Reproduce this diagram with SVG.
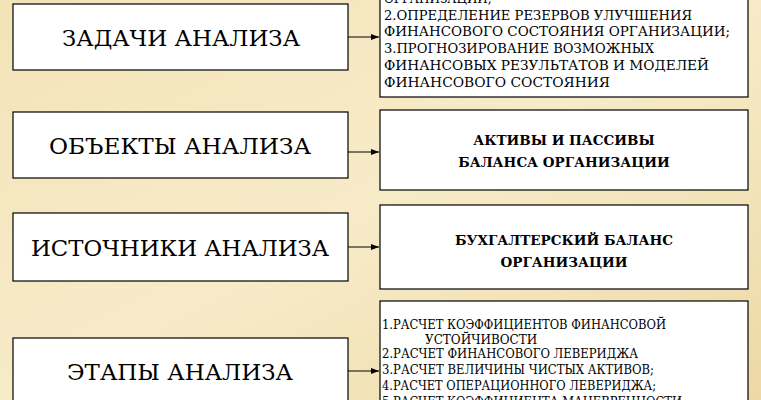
<svg xmlns="http://www.w3.org/2000/svg" width="761" height="400" viewBox="0 0 761 400">
<defs>
<linearGradient id="bg" x1="0" y1="0" x2="1" y2="1">
<stop offset="0" stop-color="#f3e3b8"/><stop offset="0.5" stop-color="#f7ebc8"/><stop offset="1" stop-color="#edd9a6"/>
</linearGradient>
<marker id="ar" markerWidth="8" markerHeight="6" refX="8" refY="3" orient="auto"><path d="M0,0L8,3L0,6z" fill="#000"/></marker>
</defs>
<style>
.b{fill:#fff;stroke:#000;stroke-width:1.2}
.L{font-family:"DejaVu Serif","Liberation Serif",serif;font-size:22px;text-anchor:middle}
.s{font-family:"DejaVu Serif","Liberation Serif",serif;font-size:12px}
.m{font-family:"DejaVu Serif","Liberation Serif",serif;font-size:13.5px;font-weight:bold;text-anchor:middle}
.c{stroke:#000;stroke-width:1;marker-end:url(#ar)}
</style>
<rect width="761" height="400" fill="url(#bg)"/>
<g id="n1"><rect class="b" x="13" y="4" width="335" height="66"/><text class="L" x="181" y="46" textLength="238" lengthAdjust="spacingAndGlyphs">ЗАДАЧИ АНАЛИЗА</text></g>
<g id="n2"><rect class="b" x="13" y="112" width="335" height="66"/><text class="L" x="180" y="154" textLength="262" lengthAdjust="spacingAndGlyphs">ОБЪЕКТЫ АНАЛИЗА</text></g>
<g id="n3"><rect class="b" x="13" y="213" width="335" height="68"/><text class="L" x="180" y="256" textLength="298" lengthAdjust="spacingAndGlyphs">ИСТОЧНИКИ АНАЛИЗА</text></g>
<g id="n4"><rect class="b" x="13" y="338" width="335" height="70"/><text class="L" x="180" y="380" textLength="226" lengthAdjust="spacingAndGlyphs">ЭТАПЫ АНАЛИЗА</text></g>
<g id="r1"><rect class="b" x="380" y="-5" width="368" height="102"/>
<text class="s" x="384" y="3">ОРГАНИЗАЦИИ;</text>
<text class="s" x="384" y="20" textLength="308" lengthAdjust="spacingAndGlyphs">2.ОПРЕДЕЛЕНИЕ РЕЗЕРВОВ УЛУЧШЕНИЯ</text>
<text class="s" x="384" y="36" textLength="346" lengthAdjust="spacingAndGlyphs">ФИНАНСОВОГО СОСТОЯНИЯ ОРГАНИЗАЦИИ;</text>
<text class="s" x="384" y="53" textLength="270" lengthAdjust="spacingAndGlyphs">3.ПРОГНОЗИРОВАНИЕ ВОЗМОЖНЫХ</text>
<text class="s" x="384" y="70" textLength="325" lengthAdjust="spacingAndGlyphs">ФИНАНСОВЫХ РЕЗУЛЬТАТОВ И МОДЕЛЕЙ</text>
<text class="s" x="384" y="87" textLength="226" lengthAdjust="spacingAndGlyphs">ФИНАНСОВОГО СОСТОЯНИЯ</text></g>
<g id="r2"><rect class="b" x="380" y="110" width="368" height="80"/>
<text class="m" x="564" y="145">АКТИВЫ И ПАССИВЫ</text><text class="m" x="564" y="167">БАЛАНСА ОРГАНИЗАЦИИ</text></g>
<g id="r3"><rect class="b" x="380" y="205" width="368" height="84"/>
<text class="m" x="564" y="245">БУХГАЛТЕРСКИЙ БАЛАНС</text><text class="m" x="564" y="267">ОРГАНИЗАЦИИ</text></g>
<g id="r4"><rect class="b" x="380" y="301" width="368" height="110"/>
<text class="s" x="382" y="329" textLength="284" lengthAdjust="spacingAndGlyphs">1.РАСЧЕТ КОЭФФИЦИЕНТОВ ФИНАНСОВОЙ</text>
<text class="s" x="425" y="344">УСТОЙЧИВОСТИ</text>
<text class="s" x="382" y="358" textLength="256" lengthAdjust="spacingAndGlyphs">2.РАСЧЕТ ФИНАНСОВОГО ЛЕВЕРИДЖА</text>
<text class="s" x="382" y="374" textLength="272" lengthAdjust="spacingAndGlyphs">3.РАСЧЕТ ВЕЛИЧИНЫ ЧИСТЫХ АКТИВОВ;</text>
<text class="s" x="382" y="390" textLength="274" lengthAdjust="spacingAndGlyphs">4.РАСЧЕТ ОПЕРАЦИОННОГО ЛЕВЕРИДЖА;</text>
<text class="s" x="382" y="406" textLength="300" lengthAdjust="spacingAndGlyphs">5.РАСЧЕТ КОЭФФИЦИЕНТА МАНЕВРЕННОСТИ</text></g>
<g id="connectors">
<line class="c" x1="348" y1="37" x2="379" y2="37"/>
<line class="c" x1="348" y1="152" x2="379" y2="152"/>
<line class="c" x1="348" y1="247" x2="379" y2="247"/>
<line class="c" x1="348" y1="371" x2="379" y2="371"/>
</g>
</svg>
